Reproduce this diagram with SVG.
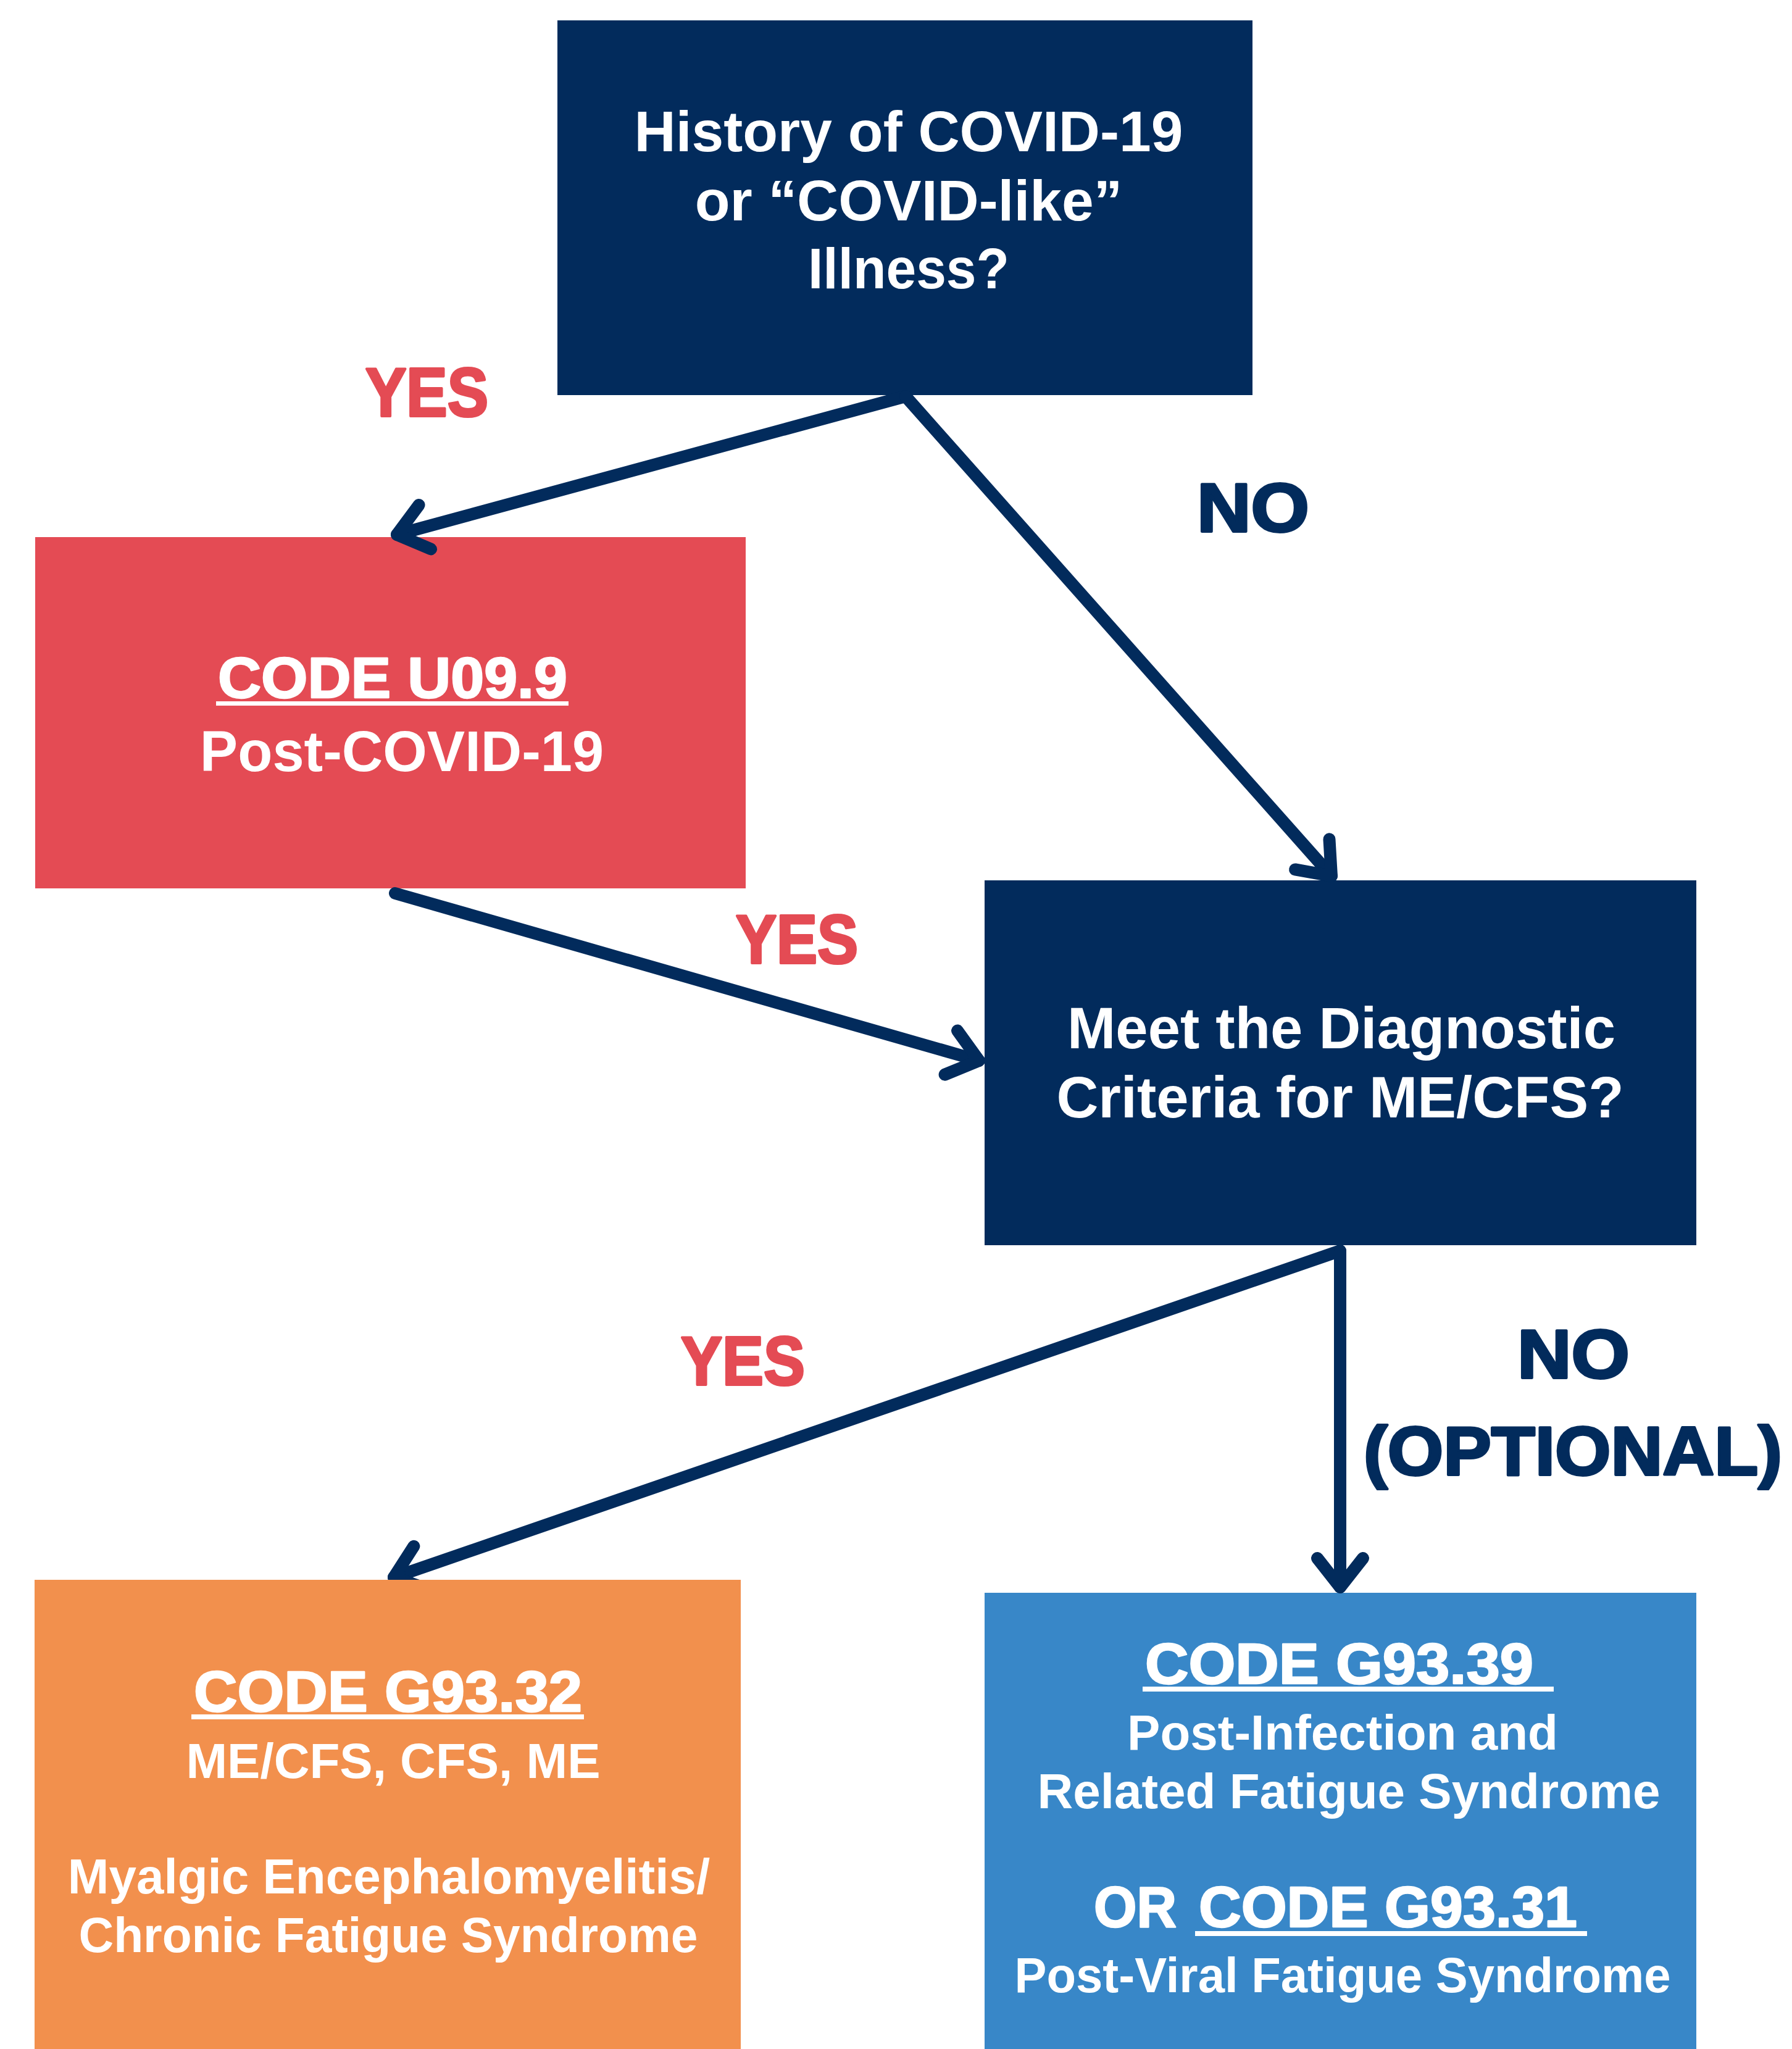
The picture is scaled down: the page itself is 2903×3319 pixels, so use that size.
<svg xmlns="http://www.w3.org/2000/svg" width="2903" height="3319" viewBox="0 0 2903 3319">
<style>
.navy{fill:#022B5C}
.red{fill:#E44B54}
.orange{fill:#F2904D}
.blue{fill:#3887C8}
.t{font-family:"Liberation Sans",Arial,sans-serif;font-weight:700;fill:#FFFFFF}
.q{font-size:93px;text-anchor:middle}
.code{font-size:93px;stroke:#FFFFFF;stroke-width:2.5;stroke-linejoin:round}
.sub{font-size:80px;text-anchor:middle}
.ul{fill:#FFFFFF}
.lbl{font-family:"Liberation Sans",Arial,sans-serif;font-weight:700;font-size:112px;stroke-width:4;stroke-linejoin:round}
.yes{fill:#E44B54;stroke:#E44B54}
.no{fill:#022B5C;stroke:#022B5C}
.conn{fill:none;stroke:#022B5C;stroke-width:20;stroke-linecap:round;stroke-linejoin:round}
</style>
<defs>
<marker id="head" markerUnits="userSpaceOnUse" viewBox="-70 -60 90 120" markerWidth="90" markerHeight="120" refX="0" refY="0" orient="auto" overflow="visible">
<path d="M-47,-37 L0,0 L-47,37" fill="none" stroke="#022B5C" stroke-width="20" stroke-linecap="round" stroke-linejoin="round"/>
</marker>
<clipPath id="aboveOrange"><rect x="0" y="0" width="2903" height="2559"/></clipPath>
</defs>
<rect x="0" y="0" width="2903" height="3319" fill="#FFFFFF"/>

<g id="node-history">
<rect class="navy" x="903" y="33" width="1126" height="607"/>
<text class="t q" x="1472" y="245">History of COVID-19</text>
<text class="t q" x="1472" y="357">or “COVID-like”</text>
<text class="t q" x="1472" y="467" textLength="326" lengthAdjust="spacingAndGlyphs">Illness?</text>
</g>

<g id="node-u099">
<rect class="red" x="57" y="870" width="1151" height="569"/>
<text class="t code" x="353" y="1130" textLength="566" lengthAdjust="spacingAndGlyphs">CODE U09.9</text>
<rect class="ul" x="350" y="1136" width="571" height="7"/>
<text class="t sub" x="651" y="1249" style="font-size:92px">Post-COVID-19</text>
</g>

<g id="node-criteria">
<rect class="navy" x="1595" y="1426" width="1153" height="591"/>
<text class="t q" x="2173" y="1698" style="font-size:94px">Meet the Diagnostic</text>
<text class="t q" x="2171" y="1810" style="font-size:94px">Criteria for ME/CFS?</text>
</g>

<g id="node-g9332">
<rect class="orange" x="56" y="2559" width="1144" height="760"/>
<text class="t code" x="314" y="2772" textLength="629" lengthAdjust="spacingAndGlyphs">CODE G93.32</text>
<rect class="ul" x="310" y="2777" width="636" height="8"/>
<text class="t sub" x="637" y="2880">ME/CFS, CFS, ME</text>
<text class="t sub" x="630" y="3067">Myalgic Encephalomyelitis/</text>
<text class="t sub" x="629" y="3162" textLength="1003" lengthAdjust="spacingAndGlyphs">Chronic Fatigue Syndrome</text>
</g>

<g id="node-g9339">
<rect class="blue" x="1595" y="2580" width="1153" height="739"/>
<text class="t code" x="1855" y="2727" textLength="629" lengthAdjust="spacingAndGlyphs">CODE G93.39</text>
<rect class="ul" x="1851" y="2732" width="666" height="8"/>
<text class="t sub" x="2175" y="2834">Post-Infection and</text>
<text class="t sub" x="2185" y="2929">Related Fatigue Syndrome</text>
<text class="t code" y="3121"><tspan x="1772" textLength="134" lengthAdjust="spacingAndGlyphs">OR</tspan><tspan x="1942" textLength="613" lengthAdjust="spacingAndGlyphs">CODE G93.31</tspan></text>
<rect class="ul" x="1936" y="3128" width="635" height="8"/>
<text class="t sub" x="2175" y="3227" textLength="1063" lengthAdjust="spacingAndGlyphs">Post-Viral Fatigue Syndrome</text>
</g>

<g id="connectors">
<path class="conn" d="M1467,642 L643,866" marker-end="url(#head)"/>
<path class="conn" d="M1467,642 L2157,1419" marker-end="url(#head)"/>
<path class="conn" d="M640,1447 L1586,1718" marker-end="url(#head)"/>
<g clip-path="url(#aboveOrange)">
<path class="conn" d="M2171,2026 L638,2555" marker-end="url(#head)"/>
</g>
<path class="conn" d="M2171,2026 L2171,2571" marker-end="url(#head)"/>
</g>

<g id="labels">
<text class="lbl yes" x="592" y="674" textLength="199" lengthAdjust="spacingAndGlyphs">YES</text>
<text class="lbl no" x="1939" y="861" textLength="182" lengthAdjust="spacingAndGlyphs">NO</text>
<text class="lbl yes" x="1192" y="1560" textLength="198" lengthAdjust="spacingAndGlyphs">YES</text>
<text class="lbl yes" x="1103" y="2243" textLength="201" lengthAdjust="spacingAndGlyphs">YES</text>
<text class="lbl no" x="2458" y="2232" textLength="182" lengthAdjust="spacingAndGlyphs">NO</text>
<text class="lbl no" x="2209" y="2389" textLength="678" lengthAdjust="spacingAndGlyphs">(OPTIONAL)</text>
</g>
</svg>
